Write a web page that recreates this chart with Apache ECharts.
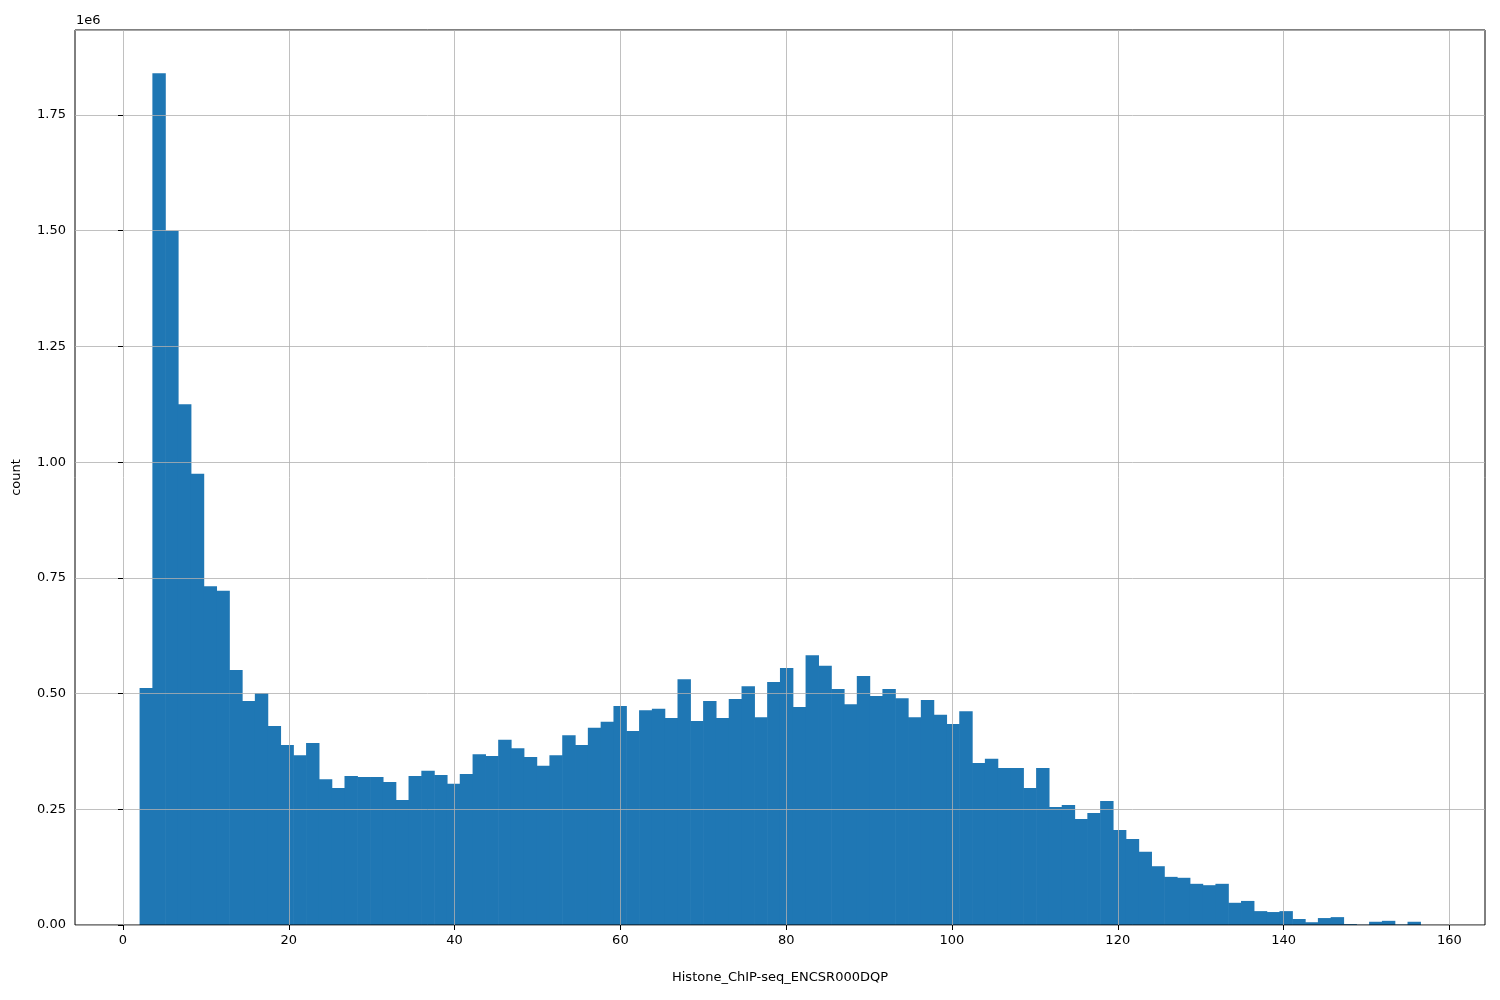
<!DOCTYPE html>
<html><head><meta charset="utf-8">
<script src="https://cdn.jsdelivr.net/npm/echarts@6/dist/echarts.min.js"></script>
<style>html,body{margin:0;background:#fff}#c{width:1500px;height:1000px}</style>
</head><body><div id="c"></div>
<script>
const binStart = 2;
const binEnd = 156.5;
const counts = [0.512,1.84,1.50,1.125,0.975,0.732,0.722,0.551,0.484,0.501,
0.430,0.389,0.367,0.393,0.315,0.296,0.322,0.320,0.320,0.309,
0.270,0.322,0.333,0.324,0.305,0.326,0.369,0.365,0.400,0.382,
0.363,0.344,0.367,0.410,0.389,0.426,0.439,0.473,0.419,0.464,
0.467,0.447,0.531,0.441,0.484,0.447,0.488,0.516,0.449,0.525,
0.555,0.471,0.583,0.560,0.510,0.477,0.538,0.495,0.510,0.490,
0.449,0.486,0.454,0.434,0.462,0.350,0.359,0.339,0.339,0.296,
0.339,0.255,0.259,0.229,0.242,0.268,0.205,0.186,0.158,0.127,
0.104,0.102,0.089,0.086,0.089,0.048,0.052,0.030,0.028,0.030,
0.013,0.006,0.015,0.017,0.002,0.0005,0.007,0.009,0.001,0.007].map(v=>v*1e6);
const xTicks = [0,20,40,60,80,100,120,140,160];
const xLabel = 'Histone_ChIP-seq_ENCSR000DQP';
const yLabel = 'count';

const w = (binEnd-binStart)/counts.length;
const data = counts.map((c,i)=>[binStart+i*w, binStart+(i+1)*w, c]);
const chart = echarts.init(document.getElementById('c'));
const font = 'DejaVu Sans';
chart.setOption({
  animation:false,
  textStyle:{fontFamily:font},
  grid:{left:75,right:15,top:30,bottom:75,show:true,borderColor:'#000',borderWidth:1,backgroundColor:'transparent'},
  graphic:[{type:'text',left:76,top:14,style:{text:'1e6',font:'13px DejaVu Sans',fill:'#000'}}],
  xAxis:{type:'value',min:-5.79,max:164.3,
    name:xLabel,nameLocation:'middle',nameGap:46,nameTextStyle:{fontSize:13,color:'#000'},
    axisLine:{show:false},
    axisTick:{show:true,customValues:xTicks,length:5,lineStyle:{color:'#000'}},
    axisLabel:{customValues:xTicks,color:'#000',fontSize:13,margin:9},
    splitLine:{show:true,lineStyle:{color:'#b0b0b0',width:0.8}}},
  yAxis:{type:'value',min:0,max:1.9336e6,interval:250000,
    name:yLabel,nameLocation:'middle',nameGap:52,nameTextStyle:{fontSize:13,color:'#000'},
    axisLine:{show:false},
    axisTick:{show:true,length:5,lineStyle:{color:'#000'}},
    axisLabel:{color:'#000',fontSize:13,margin:9,formatter:v=>(v/1e6).toFixed(2),showMaxLabel:false},
    splitLine:{show:true,lineStyle:{color:'#b0b0b0',width:0.8}}},
  series:[{type:'custom',z:-1,data:data,encode:{x:[0,1],y:2},
    renderItem:(p,api)=>{
      const a=api.coord([api.value(0),api.value(2)]);
      const b=api.coord([api.value(1),0]);
      return {type:'rect',shape:{x:a[0],y:a[1],width:b[0]-a[0]+0.6,height:b[1]-a[1]},style:{fill:'#1f77b4',stroke:null,lineWidth:0}};
    }}]
});
</script></body></html>
